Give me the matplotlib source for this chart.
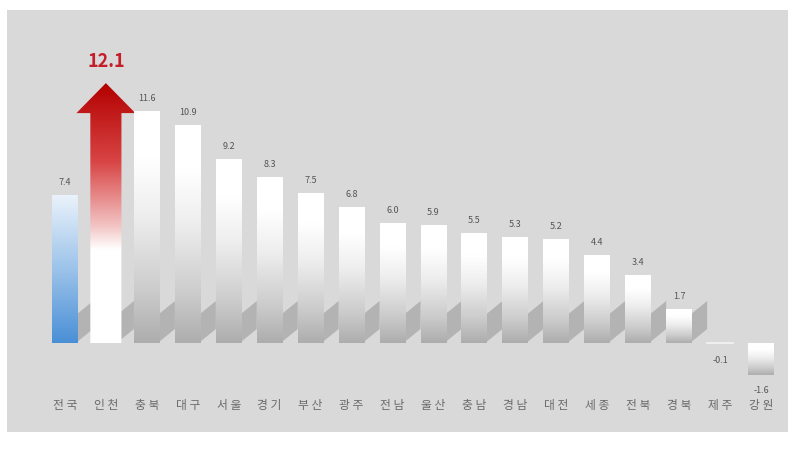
import numpy as np
import matplotlib
matplotlib.use('Agg')
import matplotlib.pyplot as plt
from matplotlib.patches import Rectangle, Polygon
from matplotlib.colors import LinearSegmentedColormap

plt.rcParams['font.family'] = ['Noto Sans CJK KR', 'DejaVu Sans']

regions = ['전국', '인천', '충북', '대구', '서울', '경기', '부산', '광주', '전남',
           '울산', '충남', '경남', '대전', '세종', '전북', '경북', '제주', '강원']
values = [7.4, 12.1, 11.6, 10.9, 9.2, 8.3, 7.5, 6.8, 6.0,
          5.9, 5.5, 5.3, 5.2, 4.4, 3.4, 1.7, -0.1, -1.6]
highlight = 1   # 인천
total = 0       # 전국

gray_cm = LinearSegmentedColormap.from_list(
    'g', [(0, '#adadad'), (0.22, '#cbcbcb'), (0.55, '#eeeeee'), (0.8, '#ffffff'), (1, '#ffffff')])
blue_cm = LinearSegmentedColormap.from_list(
    'b', [(0, '#4a8fd6'), (0.5, '#9cc3ea'), (1, '#eaf2fb')])
red_cm = LinearSegmentedColormap.from_list(
    'r', [(0, '#ffffff'), (0.36, '#ffffff'), (0.45, '#f3c4c4'), (0.7, '#d84444'), (1, '#b30000')])

fig = plt.figure(figsize=(7.97, 4.55), dpi=100)
fig.patch.set_facecolor('white')
fig.patches.append(Rectangle((7 / 797, 23 / 455), 781 / 797, 422 / 455,
                             transform=fig.transFigure, facecolor='#d9d9d9',
                             edgecolor='none', zorder=-10))

ax = fig.add_axes([0.0558, 0.0703, 0.9247, 0.791])
ax.axis('off')

x = np.arange(len(regions))
w = 0.63
grad = np.linspace(0, 1, 256).reshape(-1, 1)

bars = ax.bar(x, values, width=w, color='none', edgecolor='none', zorder=3)

# floor shadows between bars
for xi, v in zip(x, values):
    if v <= 0.2:
        continue
    xr = xi + w / 2
    sh = Polygon([(xr - 0.05, 0.0), (xr + 1 - w, 0.7), (xr + 1 - w, 2.1), (xr - 0.05, 1.4)],
                 closed=True, facecolor='#b3b3b3', edgecolor='none', zorder=2)
    ax.add_patch(sh)

for i, (b, v) in enumerate(zip(bars, values)):
    bb = b.get_bbox()
    y_lo, y_hi = min(bb.y0, bb.y1), max(bb.y0, bb.y1)
    if i == highlight:
        cx = x[i]
        sw = 0.38
        hw = 0.72
        hb = v - 0.6
        tip = v + 0.9
        arrow = Polygon([(cx - sw, 0), (cx + sw, 0), (cx + sw, hb), (cx + hw, hb),
                         (cx, tip), (cx - hw, hb), (cx - sw, hb)],
                        closed=True, facecolor='none', edgecolor='none')
        ax.add_patch(arrow)
        im = ax.imshow(grad, cmap=red_cm, origin='lower', aspect='auto',
                       extent=(cx - hw, cx + hw, 0, tip), zorder=4, interpolation='bicubic')
        im.set_clip_path(arrow)
        ax.text(cx, tip + 1.1, f'{v:.1f}', ha='center', va='center', fontsize=13,
                fontweight='bold', color='#c41e2a', zorder=6)
        continue
    cm = blue_cm if i == total else gray_cm
    if abs(v) < 0.2:
        ax.plot([bb.x0, bb.x1], [0, 0], color='#f4f4f4', lw=1.2, zorder=4)
    else:
        im = ax.imshow(grad, cmap=cm, origin='lower', aspect='auto',
                       extent=(bb.x0, bb.x1, y_lo, y_hi), zorder=4, interpolation='bicubic')
        im.set_clip_path(b)
    if v >= 0:
        ax.text(x[i], v + 0.65, f'{v:.1f}', ha='center', va='center', fontsize=6.5,
                color='#555555', zorder=6)
    else:
        ax.text(x[i], v - 0.75, f'{v:.1f}', ha='center', va='center', fontsize=6.5,
                color='#555555', zorder=6)

for xi, name in zip(x, regions):
    ax.text(xi, -3.1, ' '.join(name), ha='center', va='center', fontsize=8.5,
            color='#6a6a6a', zorder=6)

ax.set_xlim(-0.5, 17.5)
ax.set_ylim(-4, 14)

fig.savefig('out.png', dpi=100, facecolor='white')
